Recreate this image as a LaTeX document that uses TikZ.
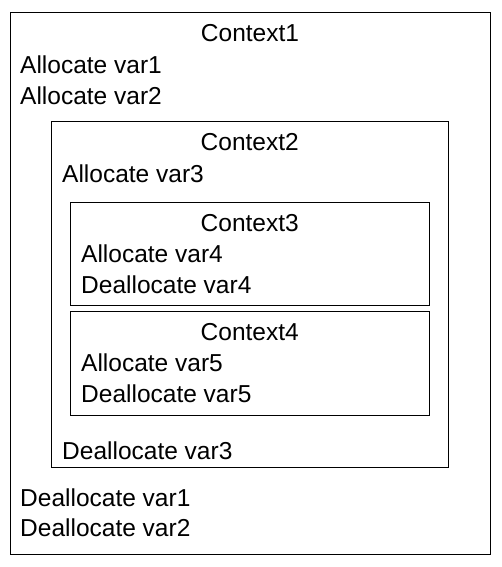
\documentclass[tikz,border=0pt]{standalone}
\usepackage{fontspec}
\setmainfont{Liberation Sans}
\usetikzlibrary{positioning}

\begin{document}
\begin{tikzpicture}
	[x=1pt, y=-1pt,
	ctx/.style={draw, line width=1pt, rectangle, inner sep=0pt},
	txt/.style={inner sep=0pt, font=\fontsize{24.5}{24.5}\selectfont}]
	\useasboundingbox (0,0) rectangle (501,567);
	% context boxes
	\node[ctx, minimum width=480pt, minimum height=541pt] (c1) at (250,283.5) {};
	\node[ctx, minimum width=396.5pt, minimum height=346pt] (c2) at (249.75,294.5) {};
	\node[ctx, minimum width=358.5pt, minimum height=103pt] (c3) at (249.75,254) {};
	\node[ctx, minimum width=358.5pt, minimum height=103.5pt] (c4) at (249.75,363.25) {};
	% titles
	\node[txt, anchor=base] (t1) at (250,42) {Context1};
	\node[txt, anchor=base] (t2) at (249.75,150.5) {Context2};
	\node[txt, anchor=base] (t3) at (249.75,231.5) {Context3};
	\node[txt, anchor=base] (t4) at (249.75,340.5) {Context4};
	% context1 lines
	\node[txt, anchor=base west] (a1) at (20,74) {Allocate var1};
	\node[txt] (a2) [below=31pt of a1.base west, anchor=base west] {Allocate var2};
	\node[txt, anchor=base west] (d1) at (20,506) {Deallocate var1};
	\node[txt] (d2) [below=30pt of d1.base west, anchor=base west] {Deallocate var2};
	% context2 lines
	\node[txt, anchor=base west] (a3) at (62,182.5) {Allocate var3};
	\node[txt, anchor=base west] (d3) at (62,459) {Deallocate var3};
	% context3 lines
	\node[txt, anchor=base west] (a4) at (81,262.5) {Allocate var4};
	\node[txt] (d4) [below=31pt of a4.base west, anchor=base west] {Deallocate var4};
	% context4 lines
	\node[txt, anchor=base west] (a5) at (81,371.5) {Allocate var5};
	\node[txt] (d5) [below=31pt of a5.base west, anchor=base west] {Deallocate var5};
\end{tikzpicture}
\end{document}
